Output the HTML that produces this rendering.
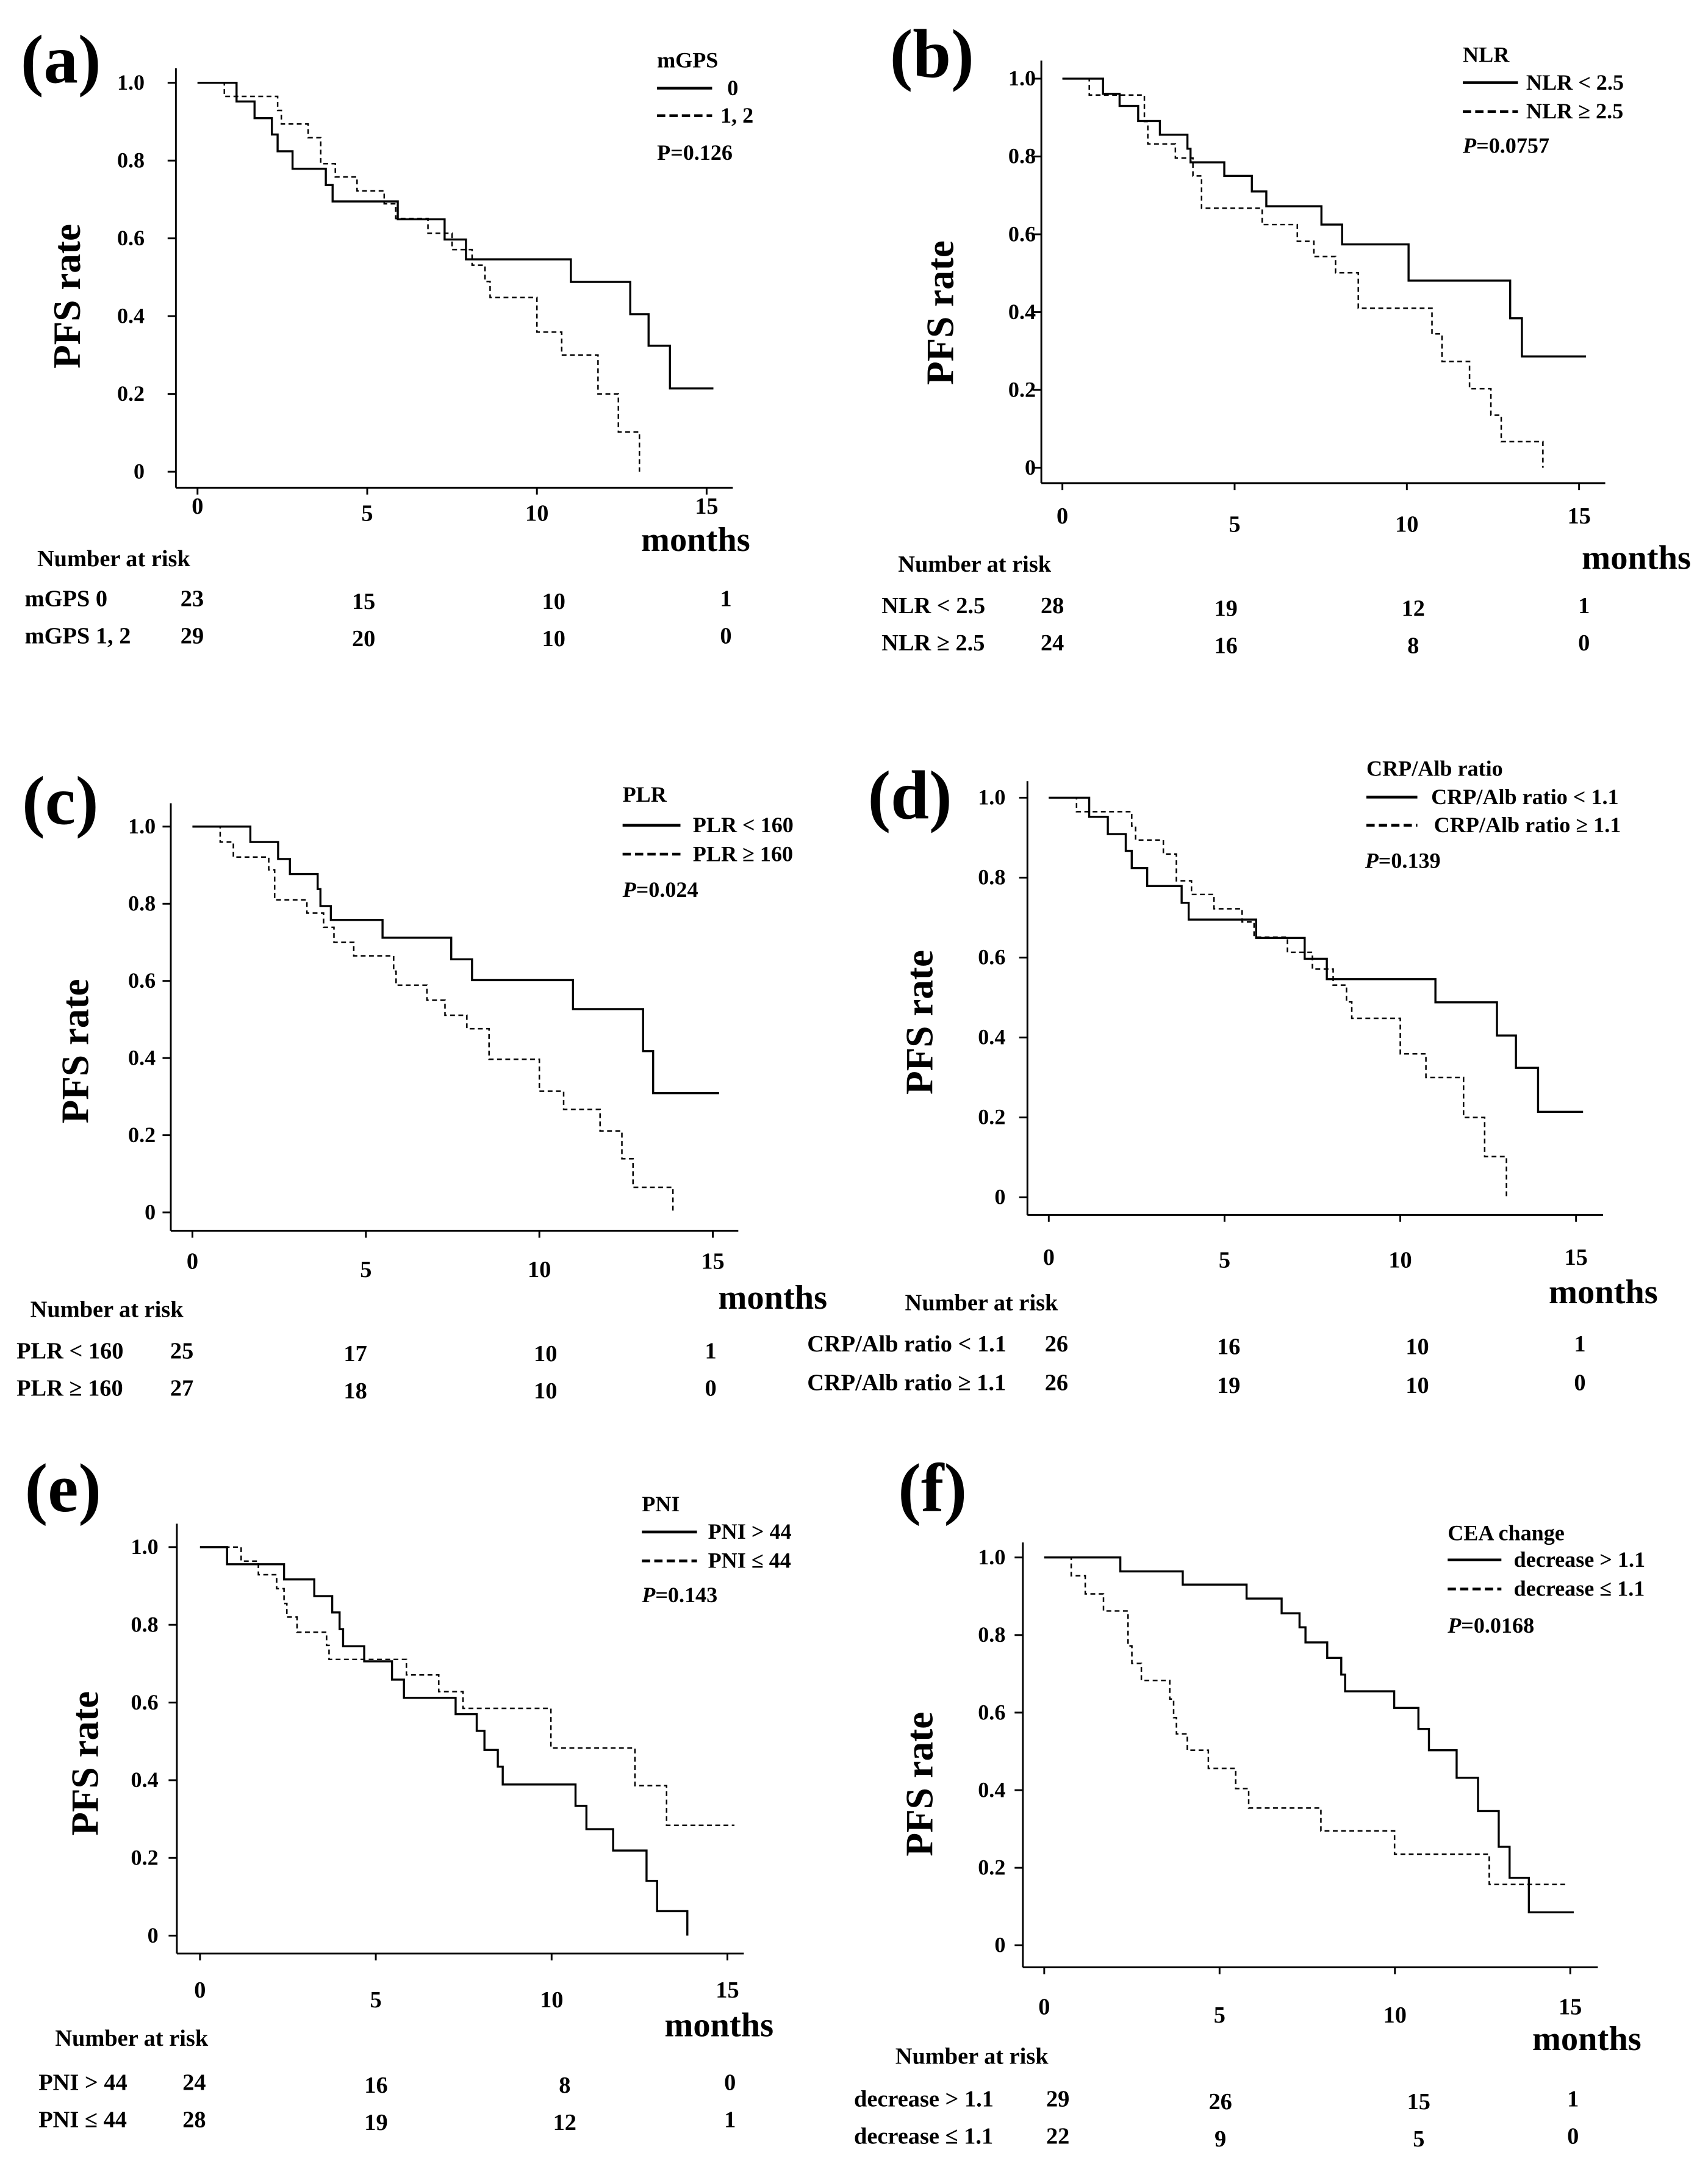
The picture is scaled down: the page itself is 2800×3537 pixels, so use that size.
<!DOCTYPE html>
<html><head><meta charset="utf-8"><style>
html,body{margin:0;padding:0;background:#fff;}
svg{display:block;}
text{font-family:"Liberation Serif",serif;font-weight:bold;fill:#000;}
</style></head><body>
<svg id="fig" width="2800" height="3537" viewBox="0 0 1240 1566.4" preserveAspectRatio="none" xmlns="http://www.w3.org/2000/svg"></svg>
<script>
// ---- data (months, survival) ----
const aSolidT=[1.15,1.68,2.19,2.36,2.80,3.78,3.98,5.90,7.28,7.91,11.0,12.75,13.29,13.92];
const aSolidS=[0.952,0.909,0.867,0.824,0.779,0.737,0.695,0.649,0.597,0.546,0.488,0.405,0.324,0.214];
const aDashT=[0.79,2.36,2.47,3.26,3.63,4.06,4.70,5.5,5.84,6.79,7.5,8.09,8.47,8.62,10.0,10.73,11.8,12.4,13.02];
const aDashS=[0.965,0.929,0.894,0.859,0.792,0.758,0.722,0.689,0.651,0.613,0.571,0.531,0.489,0.448,0.359,0.30,0.2,0.102,0];
const bSolidT=[1.18,1.66,2.2,2.83,3.63,3.72,4.7,5.5,5.92,7.52,8.12,10.05,13.0,13.34];
const bSolidS=[0.961,0.930,0.891,0.856,0.820,0.785,0.750,0.710,0.672,0.625,0.574,0.481,0.384,0.286];
const bDashT=[0.78,2.38,2.48,3.28,3.79,4.04,5.8,6.82,7.3,7.93,8.59,10.73,11.02,11.82,12.44,12.74,13.95];
const bDashS=[0.958,0.890,0.832,0.796,0.750,0.667,0.625,0.582,0.543,0.501,0.410,0.344,0.273,0.203,0.135,0.067,0];
const cSolidT=[1.67,2.47,2.81,3.61,3.69,3.99,5.48,7.46,8.06,10.97,12.99,13.28];
const cSolidS=[0.960,0.916,0.877,0.838,0.794,0.758,0.712,0.656,0.602,0.527,0.418,0.309];
const cDashT=[0.8,1.18,2.2,2.37,3.3,3.78,4.08,4.65,5.8,5.87,6.76,7.28,7.91,8.55,10.0,10.7,11.75,12.38,12.7,13.85];
const cDashS=[0.960,0.921,0.888,0.810,0.776,0.739,0.700,0.665,0.625,0.589,0.550,0.511,0.476,0.397,0.314,0.267,0.211,0.139,0.065,0];
const dSolidT=[1.15,1.68,2.19,2.36,2.80,3.78,3.98,5.90,7.28,7.91,11.0,12.75,13.29,13.92];
const dSolidS=[0.952,0.909,0.867,0.824,0.779,0.737,0.695,0.649,0.597,0.546,0.488,0.405,0.324,0.214];
const dDashT=[0.79,2.36,2.47,3.26,3.63,4.06,4.70,5.5,5.84,6.79,7.5,8.09,8.47,8.62,10.0,10.73,11.8,12.4,13.02];
const dDashS=[0.965,0.929,0.894,0.859,0.792,0.758,0.722,0.689,0.651,0.613,0.571,0.531,0.489,0.448,0.359,0.30,0.2,0.102,0];
const eSolidT=[0.77,2.39,3.25,3.76,3.97,4.07,4.67,5.46,5.8,7.27,7.87,8.09,8.47,8.61,10.68,10.99,11.75,12.7,13.0,13.86];
const eSolidS=[0.956,0.917,0.874,0.832,0.789,0.745,0.706,0.659,0.612,0.570,0.527,0.478,0.435,0.389,0.334,0.274,0.219,0.141,0.063,0];
const eDashT=[1.17,1.66,2.18,2.39,2.47,2.76,3.6,3.67,5.87,6.79,7.48,9.98,12.37,13.27];
const eDashS=[0.964,0.929,0.893,0.855,0.820,0.781,0.747,0.711,0.671,0.628,0.585,0.483,0.386,0.284];
const fSolidT=[2.17,3.95,5.77,6.77,7.28,7.45,8.07,8.47,8.58,9.98,10.67,10.97,11.76,12.37,12.96,13.27,13.82];
const fSolidS=[0.964,0.930,0.894,0.856,0.820,0.781,0.741,0.698,0.655,0.612,0.558,0.503,0.432,0.346,0.254,0.174,0.085];
const fDashT=[0.77,1.17,1.69,2.39,2.5,2.77,3.58,3.69,3.77,4.08,4.68,5.46,5.83,7.89,9.99,12.69];
const fDashS=[0.953,0.906,0.862,0.772,0.727,0.683,0.635,0.587,0.545,0.503,0.456,0.404,0.354,0.295,0.235,0.157];
const endTimes={a:[15.2,13.02],b:[15.2,13.95],c:[15.18,13.85],d:[15.2,13.02],e:[13.86,15.2],f:[15.1,14.9]};
const xTicks=[0,5,10,15];
const xTickLabels=["0","5","10","15"];
const yTicks=[1.0,0.8,0.6,0.4,0.2,0];
const yTickLabels=["1.0","0.8","0.6","0.4","0.2","0"];
const riskA=[[23,15,10,1],[29,20,10,0]];
const riskB=[[28,19,12,1],[24,16,8,0]];
const riskC=[[25,17,10,1],[27,18,10,0]];
const riskD=[[26,16,10,1],[26,19,10,0]];
const riskE=[[24,16,8,0],[28,19,12,1]];
const riskF=[[29,26,15,1],[22,9,5,0]];

// ---- layout ----
const panels=[
 {id:'a',tag:'(a)',tagX:15,tagY:60,yax:127.7,yTop:49.6,xay:354,xR:532,t0:143.4,t15:513,y1:60.1,y0:342.4,ylx:105,xly:[373,378,378,373],
  pfsX:58,pfsY:215,monX:505,monY:400,nrX:27,nrY:411,rowY:[440,467],rowX:18,numX:[139.5,264,402,527],
  legTitle:'mGPS',legX:477,legY:49,legLineW:40,legTxtX:[528,523],labels:['0','1, 2'],legY1:64,legY2:84,pX:477,pY:116,pItalic:false,pText:'=0.126',
  rowLabels:['mGPS 0','mGPS 1, 2'],sT:aSolidT,sS:aSolidS,dT:aDashT,dS:aDashS,risk:riskA},
 {id:'b',tag:'(b)',tagX:646,tagY:56,yax:756,yTop:44,xay:350.7,xR:1165.4,t0:771.3,t15:1146.4,y1:57.1,y0:339.5,ylx:752,xly:[380,386,386,380],
  pfsX:692,pfsY:227,monX:1188,monY:413,nrX:652,nrY:415,rowY:[445,472],rowX:640,numX:[764,890,1026,1150],
  legTitle:'NLR',legX:1062,legY:45,legLineW:40,legTxtX:[1108,1108],labels:['NLR < 2.5','NLR \u2265 2.5'],legY1:60,legY2:81,pX:1062,pY:111,pItalic:true,pText:'=0.0757',
  rowLabels:['NLR < 2.5','NLR \u2265 2.5'],sT:bSolidT,sS:bSolidS,dT:bDashT,dS:bDashS,risk:riskB},
 {id:'c',tag:'(c)',tagX:16,tagY:598,yax:124,yTop:583,xay:893.4,xR:536,t0:139.7,t15:517.5,y1:600,y0:880,ylx:113,xly:[921,927,927,921],
  pfsX:64,pfsY:763,monX:561,monY:950,nrX:22,nrY:956,rowY:[986,1013],rowX:12,numX:[132,258,396,516],
  legTitle:'PLR',legX:452,legY:582,legLineW:42,legTxtX:[503,503],labels:['PLR < 160','PLR \u2265 160'],legY1:599,legY2:620,pX:452,pY:651,pItalic:true,pText:'=0.024',
  rowLabels:['PLR < 160','PLR \u2265 160'],sT:cSolidT,sS:cSolidS,dT:cDashT,dS:cDashS,risk:riskC},
 {id:'d',tag:'(d)',tagX:630,tagY:594,yax:745.9,yTop:567,xay:881.9,xR:1163.8,t0:761.4,t15:1144.2,y1:579,y0:869.1,ylx:730,xly:[918,920,920,918],
  pfsX:677,pfsY:742,monX:1164,monY:946,nrX:657,nrY:951,rowY:[981,1009],rowX:586,numX:[767,892,1029,1147],
  legTitle:'CRP/Alb ratio',legX:992,legY:563,legLineW:37,legTxtX:[1039,1041],labels:['CRP/Alb ratio < 1.1','CRP/Alb ratio \u2265 1.1'],legY1:578.6,legY2:599,pX:991,pY:630,pItalic:true,pText:'=0.139',
  rowLabels:['CRP/Alb ratio < 1.1','CRP/Alb ratio \u2265 1.1'],sT:dSolidT,sS:dSolidS,dT:dDashT,dS:dDashS,risk:riskD},
 {id:'e',tag:'(e)',tagX:18,tagY:1097,yax:128.4,yTop:1106,xay:1418,xR:540,t0:145.2,t15:528.1,y1:1123,y0:1405,ylx:115,xly:[1450,1457,1457,1450],
  pfsX:71,pfsY:1280,monX:522,monY:1478,nrX:40,nrY:1485,rowY:[1517,1544],rowX:28,numX:[141,273,410,530],
  legTitle:'PNI',legX:466,legY:1097,legLineW:40,legTxtX:[514,514],labels:['PNI > 44','PNI \u2264 44'],legY1:1112,legY2:1133,pX:466,pY:1163,pItalic:true,pText:'=0.143',
  rowLabels:['PNI > 44','PNI \u2264 44'],sT:eSolidT,sS:eSolidS,dT:eDashT,dS:eDashS,risk:riskE},
 {id:'f',tag:'(f)',tagX:652,tagY:1097,yax:742.6,yTop:1119.6,xay:1428,xR:1160,t0:758.1,t15:1140,y1:1130.5,y0:1412,ylx:730,xly:[1462,1468,1468,1462],
  pfsX:677,pfsY:1295,monX:1152,monY:1488,nrX:650,nrY:1498,rowY:[1529,1556],rowX:620,numX:[768,886,1030,1142],
  legTitle:'CEA change',legX:1051,legY:1118,legLineW:39,legTxtX:[1099,1099],labels:['decrease > 1.1','decrease \u2264 1.1'],legY1:1132.3,legY2:1153.4,pX:1051,pY:1185,pItalic:true,pText:'=0.0168',
  rowLabels:['decrease > 1.1','decrease \u2264 1.1'],sT:fSolidT,sS:fSolidS,dT:fDashT,dS:fDashS,risk:riskF}
];

const NS='http://www.w3.org/2000/svg';
const svg=document.getElementById('fig');
function mk(tag,parent){const e=document.createElementNS(NS,tag);parent.appendChild(e);return e;}
function txt(parent,x,y,s,size,anchor){const t=mk('text',parent);t.setAttribute('x',x);t.setAttribute('y',y);t.setAttribute('font-size',size);if(anchor)t.setAttribute('text-anchor',anchor);t.textContent=s;return t;}
function ln(parent,x1,y1,x2,y2,w){const l=mk('line',parent);l.setAttribute('x1',x1);l.setAttribute('y1',y1);l.setAttribute('x2',x2);l.setAttribute('y2',y2);l.setAttribute('stroke','#000');l.setAttribute('stroke-width',w||1.3);return l;}

panels.forEach(p=>{
  const g=mk('g',svg);
  
  
  const X=t=>p.t0+(p.t15-p.t0)*t/15;
  const Y=s=>p.y0+(p.y1-p.y0)*s;
  const tag=txt(g,p.tagX,p.tagY,p.tag,50);
  
  
  const ya=ln(g,p.yax,p.yTop,p.yax,p.xay);
  
  
  const xa=ln(g,p.yax,p.xay,p.xR,p.xay);
  
  
  yTicks.forEach((v,i)=>{
    const tk=ln(g,p.yax-6,Y(v),p.yax,Y(v));
    
    
    const lb=txt(g,p.ylx,Y(v)+5,yTickLabels[i],16,'end');
    
    
  });
  xTicks.forEach((v,i)=>{
    const tk=ln(g,X(v),p.xay,X(v),p.xay+5);
    
    
    const lb=txt(g,X(v),p.xly[i],xTickLabels[i],17,'middle');
    
    
  });
  const pfs=txt(g,0,0,'PFS rate',28,'middle');
  pfs.setAttribute('transform','translate('+p.pfsX+','+p.pfsY+') rotate(-90)');
  
  
  const mo=txt(g,p.monX,p.monY,'months',25,'middle');
  
  
  // curves
  [[p.sT,p.sS,endTimes[p.id][0],false],[p.dT,p.dS,endTimes[p.id][1],true]].forEach((c,ci)=>{
    let d='M'+X(0)+','+Y(1);
    c[0].forEach((t,i)=>{d+=' H'+X(t)+' V'+Y(c[1][i]);});
    d+=' H'+X(c[2]);
    const path=mk('path',g);
    path.setAttribute('d',d);path.setAttribute('fill','none');path.setAttribute('stroke','#000');
    path.setAttribute('stroke-width',c[3]?1.1:1.5);
    if(c[3])path.setAttribute('stroke-dasharray','3.5,2.5');
    
    
  });
  // legend
  const lt=txt(g,p.legX,p.legY,p.legTitle,16);
  
  
  const l1=ln(g,p.legX,p.legY1,p.legX+p.legLineW,p.legY1,2);
  
  
  const l2=ln(g,p.legX,p.legY2,p.legX+p.legLineW,p.legY2,2);
  l2.setAttribute('stroke-dasharray','6,3');
  
  
  const e1=txt(g,p.legTxtX[0],p.legY1+5,p.labels[0],16);
  
  
  const e2=txt(g,p.legTxtX[1],p.legY2+5,p.labels[1],16);
  
  
  const pv=txt(g,p.pX,p.pY,'',16);
  const ps=mk('tspan',pv);ps.textContent='P';if(p.pItalic)ps.setAttribute('font-style','italic');
  const ps2=mk('tspan',pv);ps2.textContent=p.pText;
  
  
  // risk table
  const nr=txt(g,p.nrX,p.nrY,'Number at risk',17);
  
  
  p.rowLabels.forEach((rl,ri)=>{
    const r=txt(g,p.rowX,p.rowY[ri],rl,17);
    
    
    p.risk[ri].forEach((n,ni)=>{
      const nt=txt(g,p.numX[ni],p.rowY[ri]+(ni===1||ni===2?2:0),String(n),17,'middle');
      
      
    });
  });
});
</script>
</body></html>
